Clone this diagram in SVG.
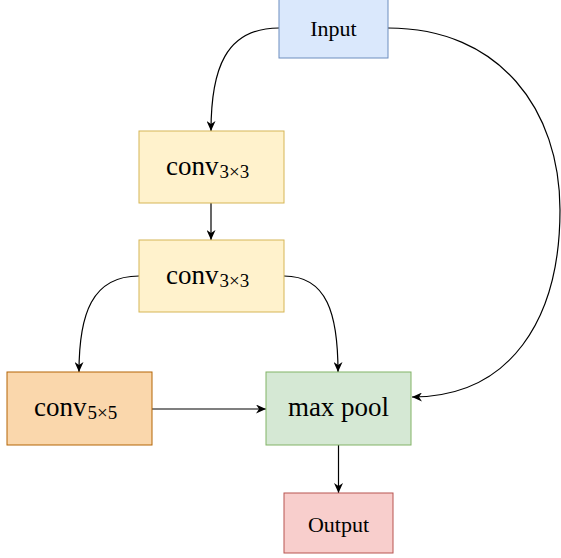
<svg xmlns="http://www.w3.org/2000/svg" width="561" height="558" viewBox="0 0 561 558">
  <style>
    .lbl { font-family: "Liberation Serif", "DejaVu Serif", serif; fill: #000000; }
    .big { font-size: 27px; }
    .mid { font-size: 22px; }
    .sub { font-size: 19px; }
    .edge { fill: none; stroke: #000000; stroke-width: 1.2; }
  </style>
  <defs>
    <marker id="arrow" viewBox="0 0 10 9" refX="10" refY="4.5" markerWidth="10" markerHeight="9" markerUnits="userSpaceOnUse" orient="auto">
      <path d="M0,0 L10,4.5 L0,9 L3,4.5 Z" fill="#000000"/>
    </marker>
  </defs>
  <rect width="561" height="558" fill="#ffffff"/>

  <g id="connectors">
    <path class="edge" d="M279,28 C225,28 211,70 211,131" marker-end="url(#arrow)"/>
    <path class="edge" d="M388,28 C500,28 560,110 560,210 C560,320 510,397 412,397" marker-end="url(#arrow)"/>
    <path class="edge" d="M211,203 L211,240" marker-end="url(#arrow)"/>
    <path class="edge" d="M139,276 C92,276 79,314 79,372" marker-end="url(#arrow)"/>
    <path class="edge" d="M284,276 C327,276 338,314 338,372" marker-end="url(#arrow)"/>
    <path class="edge" d="M152,409 L266,409" marker-end="url(#arrow)"/>
    <path class="edge" d="M338.5,445 L338.5,493" marker-end="url(#arrow)"/>
  </g>

  <g id="input">
    <rect x="279" y="-2" width="109" height="60" fill="#dae8fc" stroke="#6c8ebf" stroke-width="1"/>
    <text class="lbl mid" x="333.5" y="36" text-anchor="middle">Input</text>
  </g>

  <g id="conv1">
    <rect x="139" y="131" width="145" height="72" fill="#fff2cc" stroke="#d6b656" stroke-width="1"/>
    <text class="lbl big" x="166" y="175">conv<tspan class="sub" dx="1" dy="3">3×3</tspan></text>
  </g>

  <g id="conv2">
    <rect x="139" y="240" width="145" height="72" fill="#fff2cc" stroke="#d6b656" stroke-width="1"/>
    <text class="lbl big" x="166" y="284">conv<tspan class="sub" dx="1" dy="3">3×3</tspan></text>
  </g>

  <g id="conv5">
    <rect x="7" y="372" width="145" height="73" fill="#fad7ac" stroke="#b46504" stroke-width="1"/>
    <text class="lbl big" x="34" y="416">conv<tspan class="sub" dx="1" dy="3">5×5</tspan></text>
  </g>

  <g id="maxpool">
    <rect x="266" y="372" width="145" height="73" fill="#d5e8d4" stroke="#82b366" stroke-width="1"/>
    <text class="lbl big" x="338.5" y="416" text-anchor="middle">max pool</text>
  </g>

  <g id="output">
    <rect x="284" y="493" width="109" height="60" fill="#f8cecc" stroke="#b85450" stroke-width="1"/>
    <text class="lbl mid" x="338.5" y="532" text-anchor="middle">Output</text>
  </g>
</svg>
